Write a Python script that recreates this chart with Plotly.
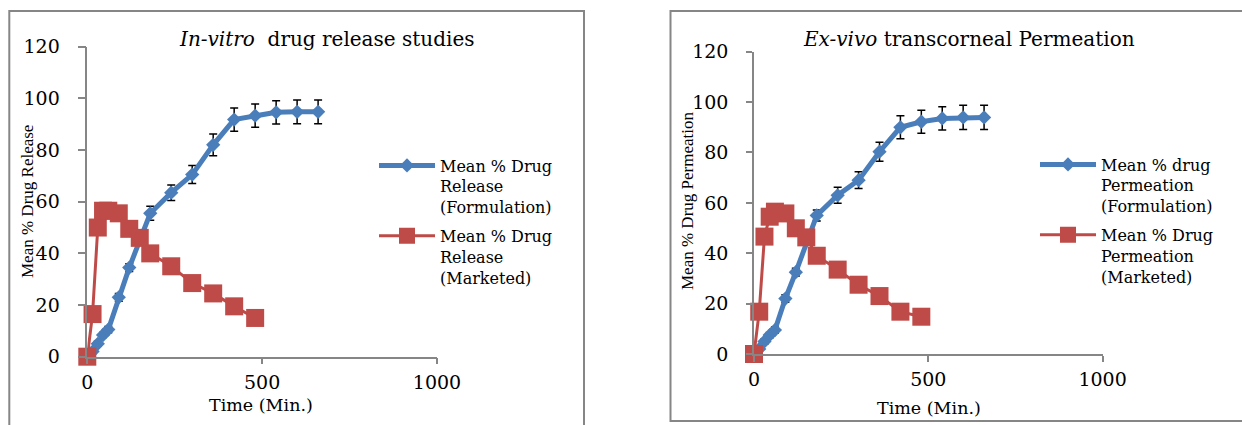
import plotly.graph_objects as go

# ---------------- data ----------------
time_form = [0, 15, 30, 45, 60, 90, 120, 180, 240, 300, 360, 420, 480, 540, 600, 660]
time_mkt = [0, 15, 30, 45, 60, 90, 120, 150, 180, 240, 300, 360, 420, 480]

rel_form = [0, 2, 5, 8.4, 10.5, 23, 34.5, 55.5, 63.5, 70.5, 82, 91.8, 93.3, 94.6, 94.8, 94.8]
rel_form_err = [0.5, 0.8, 1, 1, 1.2, 1.5, 1.5, 2.7, 3, 3.5, 4.2, 4.5, 4.5, 4.5, 4.6, 4.6]
rel_mkt = [0, 16.5, 50, 56.5, 56.5, 55.5, 49.5, 46, 40, 35, 28.5, 24.5, 19.5, 15]

perm_form = [0, 2, 5, 7.5, 9.5, 22, 32.5, 55, 63, 69, 80.3, 90, 92.2, 93.5, 93.9, 93.9]
perm_form_err = [0.5, 0.8, 1, 1, 1.2, 1.5, 1.5, 2.2, 3.2, 3.3, 3.8, 4.6, 4.6, 4.6, 4.8, 4.8]
perm_mkt = [0, 16.8, 46.6, 54.5, 56.5, 55.8, 49.9, 46.3, 39, 33.5, 27.5, 23, 16.8, 14.8]

x_ticks = [0, 500, 1000]
y_ticks = [0, 20, 40, 60, 80, 100, 120]

leg_rel_form = "Mean % Drug<br>Release<br>(Formulation)"
leg_rel_mkt = "Mean % Drug<br>Release<br>(Marketed)"
leg_perm_form = "Mean % drug<br>Permeation<br>(Formulation)"
leg_perm_mkt = "Mean % Drug<br>Permeation<br>(Marketed)"

# ---------------- style ----------------
W, H = 1242, 425
BLUE = "#4A7EBB"
RED = "#BE4B48"
GRAY = "#868686"
SERIF = "DejaVu Serif"
TIMES = "Liberation Serif"


def px_x(p):
    return p / W


def px_y(p):
    return 1 - p / H


fig = go.Figure()

fig.add_trace(go.Scatter(
    x=time_form, y=rel_form, mode="lines+markers", name=leg_rel_form, legendgroup="a",
    line=dict(color=BLUE, width=5), marker=dict(symbol="diamond", size=11, color=BLUE),
    error_y=dict(type="data", array=rel_form_err, color="black", thickness=1.5, width=4),
    xaxis="x", yaxis="y", legend="legend", cliponaxis=False))
fig.add_trace(go.Scatter(
    x=time_mkt, y=rel_mkt, mode="lines+markers", name=leg_rel_mkt, legendgroup="b",
    line=dict(color=RED, width=3), marker=dict(symbol="square", size=18, color=RED),
    xaxis="x", yaxis="y", legend="legend", cliponaxis=False))
fig.add_trace(go.Scatter(
    x=time_form, y=perm_form, mode="lines+markers", name=leg_perm_form, legendgroup="c",
    line=dict(color=BLUE, width=5), marker=dict(symbol="diamond", size=11, color=BLUE),
    error_y=dict(type="data", array=perm_form_err, color="black", thickness=1.5, width=4),
    xaxis="x2", yaxis="y2", legend="legend2", cliponaxis=False))
fig.add_trace(go.Scatter(
    x=time_mkt, y=perm_mkt, mode="lines+markers", name=leg_perm_mkt, legendgroup="d",
    line=dict(color=RED, width=3), marker=dict(symbol="square", size=18, color=RED),
    xaxis="x2", yaxis="y2", legend="legend2", cliponaxis=False))

axis_common = dict(showline=True, linecolor=GRAY, linewidth=1.5, showgrid=False, zeroline=False,
                   ticks="outside", tickcolor=GRAY, tickwidth=1.5,
                   tickfont=dict(family=SERIF, size=19, color="black"))

fig.update_layout(
    width=W, height=H, margin=dict(l=0, r=0, t=0, b=0, autoexpand=False),
    paper_bgcolor="white", plot_bgcolor="white",
    xaxis=dict(domain=[px_x(87.3), px_x(437)], range=[0, 1000], tickvals=x_ticks, ticklen=6,
               anchor="y", ticklabelstandoff=2, **axis_common),
    yaxis=dict(domain=[px_y(356.7), px_y(46.7)], range=[0, 120], tickvals=y_ticks, ticklen=8,
               anchor="x", ticklabelstandoff=14, **axis_common),
    xaxis2=dict(domain=[px_x(754), px_x(1102.6)], range=[0, 1000], tickvals=x_ticks, ticklen=6,
                anchor="y2", ticklabelstandoff=1, **axis_common),
    yaxis2=dict(domain=[px_y(354), px_y(51.7)], range=[0, 120], tickvals=y_ticks, ticklen=6,
                anchor="x2", ticklabelstandoff=14, **axis_common),
    legend=dict(x=px_x(374), y=px_y(148.5), xanchor="left", yanchor="top", valign="top",
                font=dict(family=SERIF, size=16, color="black"), bgcolor="rgba(0,0,0,0)",
                itemwidth=56, tracegroupgap=5),
    legend2=dict(x=px_x(1035), y=px_y(147.5), xanchor="left", yanchor="top", valign="top",
                 font=dict(family=SERIF, size=16, color="black"), bgcolor="rgba(0,0,0,0)",
                 itemwidth=56, tracegroupgap=5),
    showlegend=True,
)

# panel frames
fig.add_shape(type="rect", xref="paper", yref="paper", x0=px_x(9.3), x1=px_x(584),
              y0=px_y(440), y1=px_y(11), line=dict(color=GRAY, width=2), layer="below")
fig.add_shape(type="rect", xref="paper", yref="paper", x0=px_x(670.5), x1=px_x(1260),
              y0=px_y(421), y1=px_y(11), line=dict(color=GRAY, width=2), layer="below")

# titles
fig.add_annotation(text="<i>In-vitro</i>&nbsp; drug release studies", xref="paper", yref="paper",
                   x=px_x(326), y=px_y(39), showarrow=False, xanchor="center", yanchor="middle",
                   font=dict(family=SERIF, size=20, color="black"))
fig.add_annotation(text="<i>Ex-vivo</i> transcorneal Permeation", xref="paper", yref="paper",
                   x=px_x(969), y=px_y(39), showarrow=False, xanchor="center", yanchor="middle",
                   font=dict(family=SERIF, size=20, color="black"))

# axis titles
fig.add_annotation(text="Mean % Drug Release", xref="paper", yref="paper", textangle=-90,
                   x=px_x(27), y=px_y(202), showarrow=False, xanchor="center", yanchor="middle",
                   font=dict(family=TIMES, size=17, color="black"))
fig.add_annotation(text="Mean % Drug Permeation", xref="paper", yref="paper", textangle=-90,
                   x=px_x(688), y=px_y(201), showarrow=False, xanchor="center", yanchor="middle",
                   font=dict(family=TIMES, size=17, color="black"))
fig.add_annotation(text="Time (Min.)", xref="paper", yref="paper",
                   x=px_x(261), y=px_y(405), showarrow=False, xanchor="center", yanchor="middle",
                   font=dict(family=SERIF, size=17.5, color="black"))
fig.add_annotation(text="Time (Min.)", xref="paper", yref="paper",
                   x=px_x(929), y=px_y(408), showarrow=False, xanchor="center", yanchor="middle",
                   font=dict(family=SERIF, size=17.5, color="black"))

fig.write_html("out.html", config={"displayModeBar": False},
               post_script="document.body.style.margin='0';document.body.style.overflow='hidden';")
